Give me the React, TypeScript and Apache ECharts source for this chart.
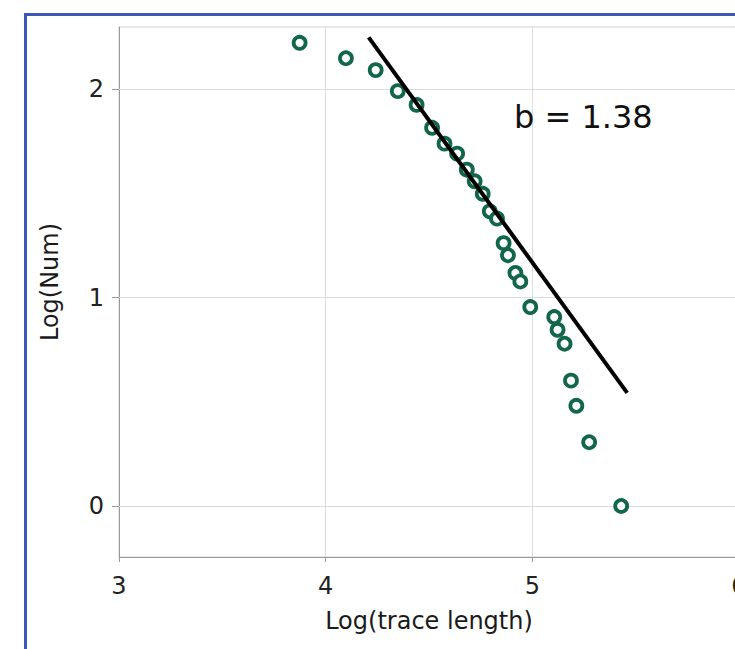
import React, { useEffect, useRef } from 'react';
import * as echarts from 'echarts';

// Log(trace length) of each observation
const logTraceLength = [
  3.874, 4.098, 4.242, 4.349, 4.44, 4.515, 4.575, 4.636, 4.683, 4.721, 4.76, 4.794, 4.829,
  4.861, 4.882, 4.918, 4.942, 4.99, 5.106, 5.122, 5.156, 5.187, 5.213, 5.275, 5.43,
];
// Log(Num) of each observation
const logNum = [
  2.224, 2.15, 2.093, 1.992, 1.926, 1.816, 1.74, 1.692, 1.615, 1.559, 1.499, 1.415, 1.38,
  1.262, 1.204, 1.119, 1.078, 0.955, 0.907, 0.846, 0.779, 0.602, 0.481, 0.306, 0.0,
];
// Fitted power-law line end points
const fitX = [4.208, 5.459];
const fitY = [2.25, 0.543];
const yTicks = [0, 1, 2];
const slopeLabel = 'b = 1.38';
const xTitle = 'Log(trace length)';
const yTitle = 'Log(Num)';

export default function App() {
  const ref = useRef<HTMLDivElement>(null);
  useEffect(() => {
    const chart = echarts.init(ref.current!, null, { renderer: 'svg' });
    const font = 'DejaVu Sans';
    chart.setOption({
      animation: false,
      backgroundColor: '#ffffff',
      grid: {
        left: 119,
        top: 27,
        width: 620,
        height: 530,
        show: true,
        borderColor: '#cfcfcf',
        borderWidth: 1,
        backgroundColor: 'transparent',
      },
      xAxis: {
        type: 'value',
        min: 3,
        max: 6,
        interval: 1,
        name: xTitle,
        nameLocation: 'middle',
        nameGap: 52,
        nameTextStyle: { fontFamily: font, fontSize: 24, color: '#1a1a1a' },
        axisLine: { show: true, onZero: false, lineStyle: { color: '#9a9a9a', width: 1 } },
        axisTick: { show: true, length: 5, lineStyle: { color: '#9a9a9a' } },
        axisLabel: { margin: 17, fontFamily: font, fontSize: 24, color: '#222' },
        splitLine: { show: true, lineStyle: { color: '#dcdcdc', width: 1 } },
      },
      yAxis: {
        type: 'value',
        min: -0.245,
        max: 2.3,
        name: yTitle,
        nameLocation: 'middle',
        nameGap: 57,
        nameTextStyle: { fontFamily: font, fontSize: 24, color: '#1a1a1a', padding: [0, 0, 0, 20] },
        axisLine: { show: true, onZero: false, lineStyle: { color: '#9a9a9a', width: 1 } },
        axisTick: { show: true, length: 7, customValues: yTicks, lineStyle: { color: '#9a9a9a' } },
        axisLabel: { margin: 15, customValues: yTicks, fontFamily: font, fontSize: 24, color: '#222' },
        splitLine: { show: false },
      },
      series: [
        {
          type: 'scatter',
          data: logTraceLength.map((x, i) => [x, logNum[i]]),
          symbol: 'circle',
          symbolSize: 12,
          itemStyle: { color: '#ffffff', borderColor: '#12664a', borderWidth: 3.8, opacity: 1 },
          z: 3,
          markLine: {
            silent: true,
            symbol: ['none', 'none'],
            label: { show: false },
            lineStyle: { color: '#dcdcdc', width: 1, type: 'solid' },
            emphasis: { disabled: true },
            z: 1,
            data: yTicks.map((v) => ({ yAxis: v })),
          },
        },
        {
          type: 'line',
          data: fitX.map((x, i) => [x, fitY[i]]),
          symbol: 'none',
          lineStyle: { color: '#000000', width: 4 },
          z: 4,
        },
      ],
      graphic: [
        {
          type: 'rect',
          silent: true,
          z: 10,
          shape: { x: 25.5, y: 14.5, width: 1000, height: 1000 },
          style: { fill: 'none', stroke: '#3b58b8', lineWidth: 3 },
        },
        {
          type: 'text',
          x: 514,
          y: 117,
          z: 10,
          style: {
            text: slopeLabel,
            fontFamily: font,
            fontSize: 32,
            fill: '#111',
            align: 'left',
            verticalAlign: 'middle',
          },
        },
      ],
    });
    return () => chart.dispose();
  }, []);
  return (
    <div
      style={{
        position: 'fixed',
        left: 0,
        top: 0,
        width: 735,
        height: 649,
        overflow: 'hidden',
        background: '#fff',
      }}
    >
      <div ref={ref} style={{ width: 780, height: 649 }} />
    </div>
  );
}
